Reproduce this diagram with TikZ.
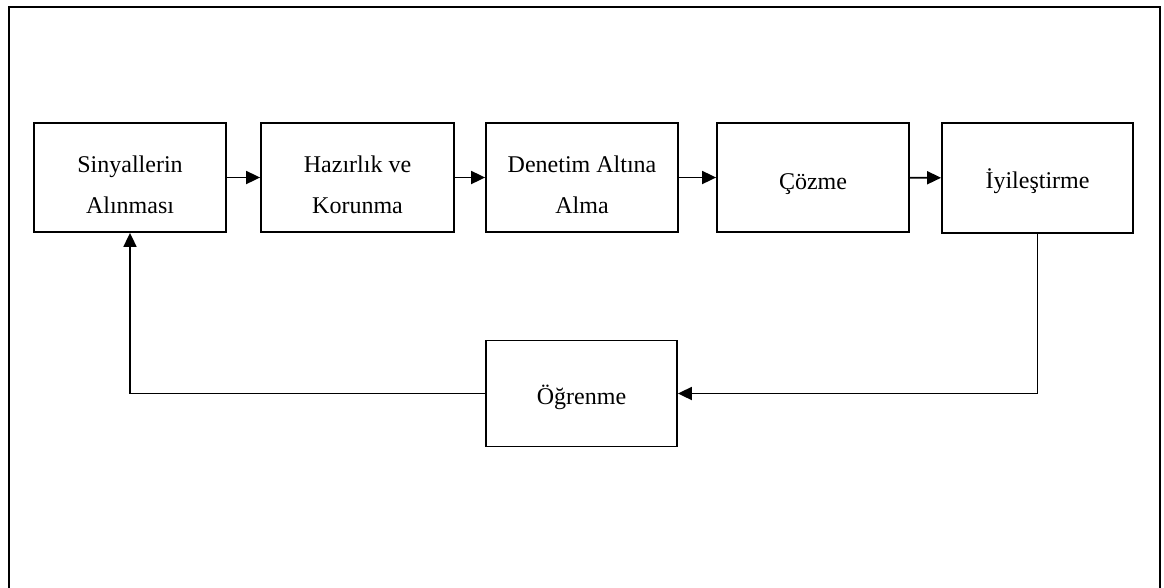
\documentclass[tikz,border=0pt]{standalone}
\usepackage{fontspec}
\setmainfont{Liberation Serif}
\usetikzlibrary{arrows.meta}
\newcommand{\twolines}[2]{\begin{tabular}[t]{@{}c@{}}#1\\#2\end{tabular}}
\begin{document}
\begin{tikzpicture}[x=1pt,y=-1pt,
  stepbox/.style={draw,line width=1.8pt,inner sep=0pt,
    font=\fontsize{24}{41}\selectfont,text height=21pt,text depth=0pt},
  twobox/.style={stepbox,text height=0pt,text depth=11pt},
  conn/.style={line width=1.8pt,-{Triangle[length=14pt,width=13pt]}},
  plain/.style={line width=1.8pt}]
\useasboundingbox (0,0) rectangle (1164,587);
\draw[plain] (9,590) -- (9,7) -- (1160,7) -- (1160,590);
\node[twobox,minimum width=192pt,minimum height=109pt] (s1) at (130,177.5) {\twolines{Sinyallerin}{Alınması}};
\node[twobox,minimum width=193pt,minimum height=109pt] (s2) at (357.5,177.5) {\twolines{Hazırlık ve}{Korunma}};
\node[twobox,minimum width=192pt,minimum height=109pt] (s3) at (582,177.5) {\twolines{Denetim Altına}{Alma}};
\node[stepbox,minimum width=192pt,minimum height=109pt,text height=23pt] (s4) at (813,177.5) {Çözme};
\node[stepbox,minimum width=191pt,minimum height=110pt] (s5) at (1037.5,178) {İyileştirme};
\node[stepbox,minimum width=191pt,minimum height=106pt] (og) at (581.5,393.5) {Öğrenme};
\draw[conn] (s1) -- (s2);
\draw[conn] (s2) -- (s3);
\draw[conn] (s3) -- (s4);
\draw[conn] (s4) -- (s5);
\draw[conn] (s5.south) |- (og.east);
\draw[conn] (og.west) -| (s1.south);
\end{tikzpicture}
\end{document}
